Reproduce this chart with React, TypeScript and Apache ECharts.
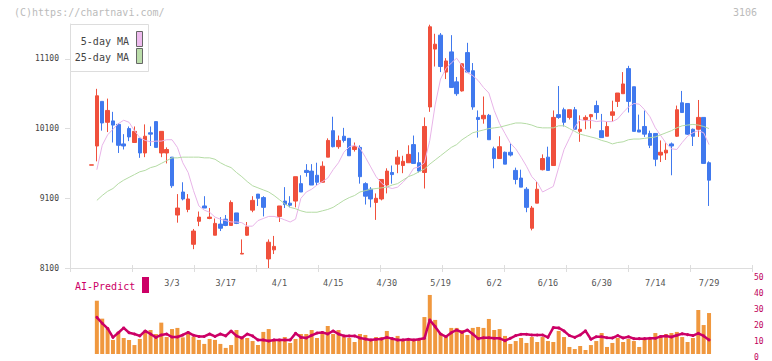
import React, { useEffect, useRef } from 'react';
import * as echarts from 'echarts';

const dates = [
  '2/6', '2/7', '2/10', '2/12', '2/13', '2/14', '2/17', '2/18', '2/19', '2/20',
  '2/21', '2/25', '2/26', '2/27', '2/28', '3/3', '3/4', '3/5', '3/6', '3/7',
  '3/10', '3/11', '3/12', '3/13', '3/14', '3/17', '3/18', '3/19', '3/21', '3/24',
  '3/25', '3/26', '3/27', '3/28', '3/31', '4/1', '4/2', '4/3', '4/4', '4/7',
  '4/8', '4/9', '4/10', '4/11', '4/14', '4/15', '4/16', '4/17', '4/18', '4/21',
  '4/22', '4/23', '4/24', '4/25', '4/28', '4/30', '5/1', '5/7', '5/8', '5/9',
  '5/12', '5/13', '5/14', '5/15', '5/16', '5/19', '5/20', '5/21', '5/22', '5/23',
  '5/26', '5/27', '5/28', '5/29', '5/30', '6/2', '6/3', '6/4', '6/5', '6/6',
  '6/9', '6/10', '6/11', '6/12', '6/13', '6/16', '6/17', '6/18', '6/19', '6/20',
  '6/23', '6/24', '6/25', '6/26', '6/27', '6/30', '7/1', '7/2', '7/3', '7/4',
  '7/7', '7/8', '7/9', '7/10', '7/11', '7/14', '7/15', '7/16', '7/17', '7/18',
  '7/22', '7/23', '7/24', '7/25', '7/28', '7/29',
];

const labelDates = ['3/3', '3/17', '4/1', '4/15', '4/30', '5/19', '6/2', '6/16', '6/30', '7/14', '7/29'];

const opens = [
  9575, 9850, 10490, 10190, 10210, 10160, 9880, 10100, 9900, 9960,
  9750, 10040, 10200, 9750, 9750, 9690, 8860, 9190, 8940, 8440,
  8770, 8990, 8810, 8570, 8730, 8800, 8710, 8890, 8300, 8570,
  8930, 9160, 9110, 8230, 8360, 8840, 9060, 9030, 9060, 9310,
  9500, 9490, 9430, 9330, 9690, 10070, 9840, 9990, 9960, 9800,
  9830, 9310, 9230, 9040, 9090, 9290, 9470, 9590, 9570, 9610,
  9870, 9610, 9470, 10410, 11240, 11440, 10910, 11200, 10770, 10640,
  11190, 10930, 10260, 10240, 10290, 9810, 9670, 9760, 9760, 9500,
  9390, 9230, 8670, 9030, 9510, 9690, 9570, 10300, 10370, 10260,
  10370, 10060, 10230, 10270, 10430, 10070, 9990, 10290, 10490, 10600,
  10960, 10700, 10080, 10130, 10030, 10030, 9720, 9750, 9880, 9990,
  10470, 10460, 10090, 10090, 10260, 9610,
];
const closes = [
  9580, 10570, 10180, 10360, 10150, 9860, 9850, 9980, 10060, 9750,
  9990, 10020, 9830, 10060, 9800, 9280, 8960, 9090, 9090, 8630,
  8830, 8960, 8830, 8740, 8670, 8710, 9040, 8740, 8310, 8690,
  9070, 9100, 8970, 8470, 8410, 8990, 9010, 9000, 9410, 9190,
  9470, 9290, 9330, 9560, 9930, 9840, 9930, 9930, 9710, 9840,
  9410, 9130, 9090, 9100, 9370, 9490, 9440, 9690, 9630, 9730,
  9600, 9490, 10130, 11560, 11310, 10990, 11070, 10690, 10600, 11030,
  10910, 10410, 10230, 10290, 9940, 9670, 9840, 9590, 9720, 9370,
  9260, 8970, 8960, 9230, 9670, 9500, 10260, 10260, 10190, 10370,
  10090, 10090, 10260, 10300, 10330, 9970, 10130, 10340, 10610, 10740,
  10490, 10060, 10050, 10020, 9860, 9660, 9760, 9790, 9850, 10370,
  10330, 10020, 9990, 10260, 9600, 9360,
];
const lows = [
  9575, 9630, 10070, 10050, 9900, 9750, 9800, 9920, 9900, 9680,
  9690, 9850, 9830, 9690, 9600, 9250, 8750, 9070, 8900, 8370,
  8700, 8960, 8800, 8570, 8630, 8700, 8710, 8730, 8300, 8560,
  8900, 8990, 8840, 8100, 8300, 8760, 8960, 8970, 8970, 9190,
  9410, 9290, 9290, 9330, 9690, 9830, 9810, 9900, 9710, 9770,
  9310, 9010, 8970, 8790, 9070, 9170, 9310, 9460, 9460, 9610,
  9600, 9470, 9240, 10340, 10990, 10910, 10810, 10690, 10570, 10630,
  10910, 10370, 9970, 10170, 9940, 9530, 9670, 9590, 9700, 9300,
  9260, 8900, 8640, 9030, 9500, 9500, 9570, 10240, 10130, 10230,
  10090, 9910, 10090, 10100, 10230, 9970, 9990, 10200, 10410, 10600,
  10330, 10060, 10050, 9980, 9820, 9560, 9620, 9650, 9430, 9980,
  10330, 10010, 9850, 9980, 9600, 8990,
];
const highs = [
  9580, 10670, 10490, 10530, 10340, 10180, 10020, 10130, 10130, 9960,
  10160, 10130, 10200, 10060, 9830, 9690, 9160, 9330, 9160, 8660,
  8910, 9130, 8960, 8810, 8830, 8860, 9070, 8890, 8510, 8760,
  9130, 9160, 9130, 8510, 8560, 8990, 9260, 9130, 9410, 9430,
  9590, 9590, 9610, 9630, 9960, 10270, 10000, 10110, 9960, 9900,
  9860, 9330, 9260, 9170, 9370, 9530, 9570, 9790, 9710, 9860,
  10000, 9760, 10260, 11590, 11460, 11470, 11110, 11440, 10840, 11030,
  11330, 11040, 10360, 10560, 10310, 9840, 9990, 9770, 9890, 9540,
  9510, 9260, 8990, 9340, 9730, 9840, 10360, 10710, 10400, 10370,
  10410, 10290, 10290, 10310, 10500, 10310, 10200, 10500, 10610, 10910,
  11000, 10700, 10300, 10360, 10070, 10030, 9930, 9890, 9900, 10430,
  10640, 10460, 10100, 10510, 10260, 9630,
];

const ma5 = [
  null, 9510, 9860, 10010, 10090, 10170, 10220, 10190, 10070, 9970,
  9930, 9910, 9920, 9920, 9940, 9940, 9830, 9610, 9470, 9210,
  8990, 8930, 8900, 8830, 8800, 8780, 8760, 8760, 8750, 8700,
  8700, 8780, 8810, 8840, 8840, 8820, 8790, 8760, 8800, 9100,
  9190, 9230, 9290, 9340, 9390, 9510, 9610, 9760, 9840, 9860,
  9820, 9690, 9550, 9410, 9320, 9260, 9240, 9260, 9330, 9410,
  9530, 9550, 9610, 9930, 10440, 10810, 10960, 11040, 11110, 11000,
  10900, 10860, 10790, 10690, 10610, 10360, 10170, 10030, 9890, 9810,
  9690, 9560, 9410, 9330, 9190, 9230, 9270, 9540, 9800, 9960,
  10120, 10230, 10210, 10220, 10200, 10210, 10200, 10200, 10240, 10330,
  10410, 10460, 10450, 10370, 10270, 10110, 10000, 9890, 9810, 9800,
  9900, 9990, 10040, 10070, 10040, 9870,
];
const ma25 = [
  null, 9070, 9140, 9200, 9240, 9310, 9360, 9400, 9440, 9480,
  9500, 9540, 9560, 9600, 9640, 9680, 9680, 9690, 9690, 9690,
  9690, 9680, 9680, 9660, 9610, 9570, 9540, 9470, 9410, 9340,
  9280, 9250, 9220, 9190, 9140, 9080, 9020, 8970, 8950, 8920,
  8900, 8900, 8900, 8920, 8940, 8970, 9020, 9070, 9110, 9140,
  9190, 9210, 9230, 9240, 9250, 9260, 9290, 9310, 9360, 9410,
  9440, 9480, 9520, 9590, 9650, 9710, 9770, 9830, 9870, 9940,
  9990, 10040, 10060, 10080, 10100, 10110, 10120, 10140, 10160, 10180,
  10180, 10170, 10150, 10120, 10110, 10110, 10110, 10140, 10140, 10100,
  10060, 10020, 10000, 9980, 9960, 9930, 9910, 9880, 9900, 9910,
  9940, 9950, 9950, 9960, 9970, 9980, 10010, 10040, 10070, 10110,
  10140, 10150, 10160, 10150, 10130, 10100,
];

const volume = [
  null, 33.3, 22.1, 16.3, 8.8, 13.8, 10, 8.8, 5.6, 9.4,
  14.6, 15, 12.5, 19.6, 10.6, 15.6, 16.3, 10.4, 13.5, 10.8,
  8.8, 6.3, 9.4, 8.8, 6.3, 3.8, 5.6, 15, 10.6, 10,
  8.1, 5.6, 13.8, 15.6, 8.8, 9.4, 10.6, 6.9, 9.4, 12.5,
  12.5, 15, 10, 13.8, 17.5, 12.5, 15, 10.6, 10, 7.5,
  12.5, 11.9, 8.8, 10.6, 10.6, 14.4, 9.4, 11.3, 8.1, 8.8,
  9.4, 8.8, 23.1, 36.9, 21.3, 13.1, 10.6, 16.3, 16.3, 15,
  11.9, 16.3, 16.9, 16.3, 21.9, 15, 15.6, 11.3, 6.3, 8.1,
  10, 6.9, 10.6, 7.5, 10.6, 8.1, 7.5, 14.4, 10.6, 4.4,
  3.1, 5, 2.5, 5.6, 8.1, 13.1, 4.4, 6.9, 10, 7.5,
  9.4, 8.1, 4.4, 9.4, 9.4, 13.1, 11.3, 12.5, 13.1, 13.8,
  10.6, 7.5, 10, 27.5, 18.1, 25.6,
];
const aiPredict = [
  null, 22.9, 19.2, 16, 10.4, 13.3, 16.3, 13.3, 12.5, 11.3,
  14.4, 12.5, 10.4, 11.9, 12.5, 10.6, 10.6, 11.9, 13.5, 11.7,
  11, 11, 12.5, 11, 12.5, 11.3, 14.4, 11.3, 10, 12.5,
  11.3, 8.8, 8.8, 8.1, 8.8, 8.8, 8.8, 8.8, 12.9, 10.4,
  10, 11.7, 13.1, 13.5, 12.5, 14.4, 12.5, 11.3, 11.3, 11.3,
  10, 9.4, 8.8, 9.2, 9.4, 10.4, 9.6, 8.8, 8.8, 9.2,
  8.8, 9.2, 9.8, 21.3, 17.1, 12.5, 10.8, 13.3, 15, 13.5,
  15, 12.5, 9.6, 10.2, 10.2, 9.8, 9.8, 8.3, 9.8, 11.5,
  12.3, 12.3, 11.9, 11.9, 11.9, 10.4, 16.5, 16.3, 14.4, 11.5,
  10.4, 11.9, 14.5, 9.2, 10.8, 10.8, 10.2, 10, 11.5, 10,
  10.8, 9.6, 9.6, 9.6, 9.8, 9.8, 11, 11.3, 10.6, 11.7,
  12.7, 12.1, 11.5, 12.9, 11.3, 8.8,
];

const priceTicks = [8100, 9100, 10100, 11100];

const LEAD = 4;
const TRAIL = 8;

const RED = '#f0503c';
const BLUE = '#4079ee';
const MONO = '"DejaVu Sans Mono", monospace';

export default function App() {
  const ref = useRef<HTMLDivElement>(null);

  useEffect(() => {
    if (!ref.current) return;
    const chart = echarts.init(ref.current, undefined, { renderer: 'svg' });

    const lead = Array.from({ length: LEAD }, (_, i) => '_a' + i);
    const trail = Array.from({ length: TRAIL }, (_, i) => '_b' + i);
    const axisData = [...lead, ...dates, ...trail];
    const pad = (arr: (number | null)[]) => [
      ...lead.map(() => '-'),
      ...arr.map((v) => (v == null ? '-' : v)),
    ];
    const candleData = [
      ...lead.map(() => '-'),
      ...opens.map((o, i) => [o, closes[i], lows[i], highs[i]]),
    ];

    const gridBase = { left: 70, right: 20, top: 24, height: 244, outerBoundsMode: 'none' };

    chart.setOption({
      animation: false,
      backgroundColor: '#fff',
      grid: [
        { ...gridBase },
        { left: 70, right: 20, top: 274, height: 80, outerBoundsMode: 'none' },
        { ...gridBase },
        { ...gridBase },
      ],
      xAxis: [
        {
          type: 'category',
          gridIndex: 0,
          data: axisData,
          boundaryGap: false,
          axisLine: { show: false },
          axisTick: { show: false },
          splitLine: { show: false },
          axisLabel: {
            interval: (_i: number, v: string) => labelDates.includes(v),
            margin: 10,
            color: '#555',
            fontSize: 8.5,
            fontFamily: MONO,
          },
        },
        {
          type: 'category',
          gridIndex: 1,
          data: axisData,
          boundaryGap: false,
          show: false,
        },
        {
          type: 'value',
          gridIndex: 2,
          min: 0,
          max: 11,
          interval: 1,
          axisLine: { show: true, lineStyle: { color: '#ddd', width: 1 } },
          axisTick: { show: true, length: 4, lineStyle: { color: '#ddd' } },
          axisLabel: { show: false },
          splitLine: { show: false },
        },
        {
          type: 'value',
          gridIndex: 3,
          min: 0,
          max: 11,
          interval: 1,
          axisLine: { show: false },
          axisTick: { show: true, inside: true, length: 3, lineStyle: { color: '#ddd' } },
          axisLabel: { show: false },
          splitLine: { show: false },
        },
      ],
      yAxis: [
        {
          type: 'value',
          gridIndex: 0,
          min: 8100,
          max: 11600,
          position: 'left',
          axisLine: { show: true, lineStyle: { color: '#ddd' } },
          axisTick: { show: true, length: 5, customValues: priceTicks, lineStyle: { color: '#ddd' } },
          axisLabel: {
            customValues: priceTicks,
            formatter: (v: number) => String(v),
            margin: 11,
            color: '#444',
            fontSize: 8,
            fontFamily: MONO,
          },
          splitLine: { show: false },
        },
        {
          type: 'value',
          gridIndex: 1,
          min: 0,
          max: 50,
          interval: 10,
          position: 'right',
          axisLine: { show: false },
          axisTick: { show: false },
          splitLine: { show: false },
          axisLabel: {
            formatter: (v: number) => String(v),
            color: '#c0005a',
            fontSize: 8,
            lineHeight: 7,
            fontFamily: MONO,
            margin: 2,
            verticalAlign: 'top',
            align: 'left',
          },
        },
        { type: 'value', gridIndex: 2, min: 0, max: 1, show: false },
        { type: 'value', gridIndex: 3, min: 0, max: 1, show: false },
      ],
      series: [
        {
          type: 'candlestick',
          xAxisIndex: 0,
          yAxisIndex: 0,
          data: candleData,
          barWidth: 4,
          itemStyle: {
            color: RED,
            color0: BLUE,
            borderColor: RED,
            borderColor0: BLUE,
            borderWidth: 1,
          },
        },
        {
          type: 'line',
          name: '5-day MA',
          xAxisIndex: 0,
          yAxisIndex: 0,
          data: pad(ma5),
          showSymbol: false,
          lineStyle: { color: '#e8b4e8', width: 1 },
          itemStyle: { color: '#e8b4e8' },
        },
        {
          type: 'line',
          name: '25-day MA',
          xAxisIndex: 0,
          yAxisIndex: 0,
          data: pad(ma25),
          showSymbol: false,
          lineStyle: { color: '#b4dba4', width: 1 },
          itemStyle: { color: '#b4dba4' },
        },
        {
          type: 'bar',
          xAxisIndex: 1,
          yAxisIndex: 1,
          data: pad(volume),
          barWidth: 4,
          itemStyle: { color: '#f0983e' },
        },
        {
          type: 'line',
          name: 'AI-Predict',
          xAxisIndex: 1,
          yAxisIndex: 1,
          data: pad(aiPredict),
          showSymbol: true,
          symbol: 'circle',
          symbolSize: 3,
          lineStyle: { color: '#cc0066', width: 2.5 },
          itemStyle: { color: '#cc0066' },
        },
      ],
      graphic: [
        {
          type: 'text',
          x: 14,
          y: 12,
          style: { text: '(C)https://chartnavi.com/', font: `10px ${MONO}`, fill: '#bbb', verticalAlign: 'middle' },
        },
        {
          type: 'text',
          x: 757,
          y: 12,
          style: { text: '3106', font: `10px ${MONO}`, fill: '#bbb', align: 'right', verticalAlign: 'middle' },
        },
        {
          type: 'rect',
          z: 100,
          shape: { x: 70.5, y: 24.5, width: 78, height: 47 },
          style: { fill: '#fff', stroke: '#ddd', lineWidth: 1 },
        },
        {
          type: 'text',
          z: 101,
          x: 129,
          y: 41,
          style: { text: '5-day MA', font: `10px ${MONO}`, fill: '#444', align: 'right', verticalAlign: 'middle' },
        },
        {
          type: 'text',
          z: 101,
          x: 129,
          y: 57,
          style: { text: '25-day MA', font: `10px ${MONO}`, fill: '#444', align: 'right', verticalAlign: 'middle' },
        },
        {
          type: 'rect',
          z: 101,
          shape: { x: 136.5, y: 31.5, width: 6, height: 15 },
          style: { fill: '#eebbee', stroke: '#666', lineWidth: 1 },
        },
        {
          type: 'rect',
          z: 101,
          shape: { x: 136.5, y: 48.5, width: 6, height: 15 },
          style: { fill: '#bbddaa', stroke: '#666', lineWidth: 1 },
        },
        {
          type: 'text',
          x: 75,
          y: 286,
          style: { text: 'AI-Predict', font: `10px ${MONO}`, fill: '#cc0066', verticalAlign: 'middle' },
        },
        {
          type: 'rect',
          shape: { x: 142, y: 277, width: 7, height: 16 },
          style: { fill: '#cc0066' },
        },
      ],
    });

    return () => chart.dispose();
  }, []);

  return (
    <div
      ref={ref}
      style={{ position: 'fixed', left: 0, top: 0, width: 772, height: 361, background: '#fff' }}
    />
  );
}
